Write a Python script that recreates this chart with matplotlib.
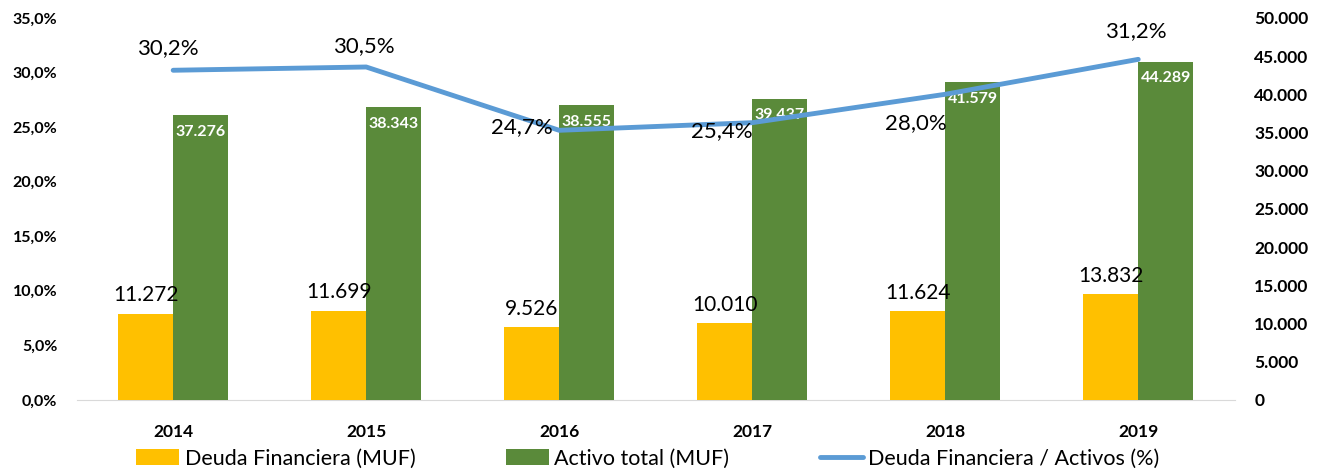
import numpy as np
import matplotlib.pyplot as plt
from matplotlib.ticker import FuncFormatter

# --- DATOS ---
anios = ['2014', '2015', '2016', '2017', '2018', '2019']
deuda_financiera = [11272, 11699, 9526, 10010, 11624, 13832]
activo_total = [37276, 38343, 38555, 39437, 41579, 44289]
deuda_activos = [30.2, 30.5, 24.7, 25.4, 28.0, 31.2]

AMARILLO = '#FFC000'
VERDE = '#5A8A3A'
AZUL = '#5B9BD5'

plt.rcParams['font.family'] = ['Lato', 'DejaVu Sans']


def fmt_miles(v):
    return f"{int(round(v)):,}".replace(',', '.')


def fmt_pct(v):
    return f"{v:.1f}%".replace('.', ',')


def main():
    fig = plt.figure(figsize=(13.22, 4.70), dpi=100)
    ax = fig.add_axes([0.058, 0.149, 0.876, 0.813])  # eje izquierdo (%)
    ax2 = ax.twinx()  # eje derecho (MUF)

    x = np.arange(len(anios))
    w = 0.285

    # barras en el eje derecho
    b1 = ax2.bar(x - w / 2, deuda_financiera, w, color=AMARILLO, label='Deuda Financiera (MUF)', zorder=2)
    b2 = ax2.bar(x + w / 2, activo_total, w, color=VERDE, label='Activo total (MUF)', zorder=2)
    ax2.set_ylim(0, 50000)
    ax2.set_yticks(np.arange(0, 50001, 5000))
    ax2.yaxis.set_major_formatter(FuncFormatter(lambda v, p: fmt_miles(v)))

    # linea en un eje por encima de las barras
    ax3 = ax.twinx()
    ax3.set_ylim(0, 35)
    ax3.axis('off')
    ln, = ax3.plot(x, deuda_activos, color=AZUL, lw=3.5, solid_capstyle='round',
                   label='Deuda Financiera / Activos (%)', zorder=3)

    ax.set_ylim(0, 35)
    ax.set_yticks(np.arange(0, 35.01, 5))
    ax.yaxis.set_major_formatter(FuncFormatter(lambda v, p: fmt_pct(v)))
    ax.set_xlim(-0.5, len(anios) - 0.5)
    ax.set_xticks(x)
    ax.set_xticklabels(anios)

    for a in (ax, ax2):
        for s in a.spines.values():
            s.set_visible(False)
        a.tick_params(length=0)
    ax.tick_params(axis='y', labelsize=11.5, pad=14)
    ax.tick_params(axis='x', labelsize=12.5, pad=17)
    ax2.tick_params(axis='y', labelsize=12.5, pad=14)
    for t in ax.get_yticklabels() + ax.get_xticklabels() + ax2.get_yticklabels():
        t.set_fontweight('bold')
    ax.spines['bottom'].set_visible(True)
    ax.spines['bottom'].set_color('#D9D9D9')
    for t in ax2.get_yticklabels():
        t.set_horizontalalignment('left')

    # etiquetas de datos
    for xi, v in zip(x, deuda_financiera):
        ax2.annotate(fmt_miles(v), (xi - w / 2, v), xytext=(0, 6), textcoords='offset points',
                     ha='center', va='bottom', fontsize=15)
    for xi, v in zip(x, activo_total):
        ax2.annotate(fmt_miles(v), (xi + w / 2, v), xytext=(0, -7), textcoords='offset points',
                     ha='center', va='top', fontsize=11.5, fontweight='bold', color='white')
    desplaz = [(-4, 16), (-2, 15), (-27, 2), (-22, -6), (-21, -21), (-2, 20)]
    for xi, v, d in zip(x, deuda_activos, desplaz):
        ax3.annotate(fmt_pct(v), (xi, v), xytext=d, textcoords='offset points',
                     ha='center', va='center', fontsize=16)

    fig.legend(handles=[b1, b2, ln], loc='lower center', bbox_to_anchor=(0.49, -0.038), ncol=3,
               frameon=False, fontsize=15.5, handlelength=2.0, handleheight=0.8,
               handletextpad=0.25, columnspacing=4.2)

    fig.savefig('out.png', dpi=100)


if __name__ == "__main__":
    main()
